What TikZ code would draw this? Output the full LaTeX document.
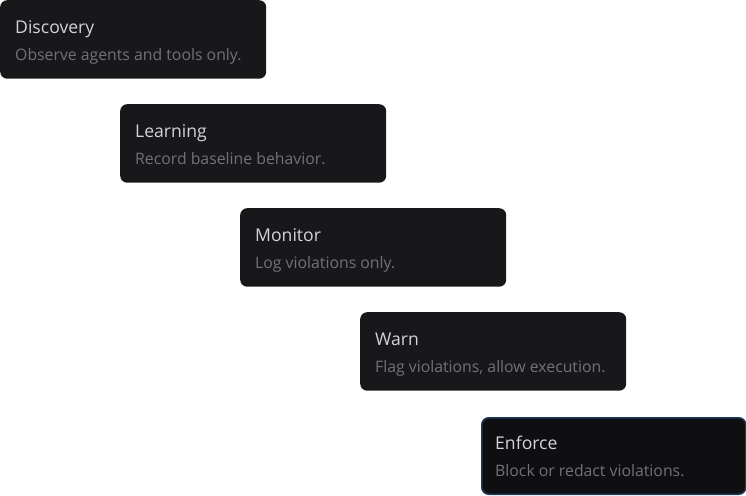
\documentclass[tikz,border=0pt]{standalone}
\usepackage{fontspec}
\usepackage{tikz}
\setmainfont{Open Sans}
\definecolor{boxfill}{HTML}{18181B}
\definecolor{lastfill}{HTML}{0F0F11}
\definecolor{lastedge}{HTML}{1E3A5F}
\definecolor{titlegray}{HTML}{D4D4D8}
\definecolor{notegray}{HTML}{71717A}

\begin{document}
\begin{tikzpicture}[x=1pt, y=-1pt,
	stagebox/.style={fill=boxfill, rounded corners=7pt, minimum width=266pt, minimum height=78.5pt, inner sep=0pt, anchor=north west},
	stagetitle/.style={anchor=base west, inner sep=0pt, text=titlegray, font=\fontsize{17.6}{19}\selectfont},
	stagenote/.style={anchor=base west, inner sep=0pt, text=notegray, font=\fontsize{15.8}{17}\selectfont}]
			\useasboundingbox (0,0) rectangle (746,495);
			% steps
			\node[stagebox] (discovery) at (0,0) {};
			\node[stagebox] (learning) at (120,104) {};
			\node[stagebox] (monitor) at (240,208) {};
			\node[stagebox] (warn) at (360,312) {};
			\node[stagebox, fill=lastfill, draw=lastedge, line width=1.5pt, minimum width=264pt, minimum height=76.5pt] (enforce) at (481,417) {};
			% texts
			\node[stagetitle] (discoveryT) at (15,33.5) {Discovery};
			\node[stagenote] (discoveryN) at (15,60) {Observe agents and tools only.};
			\node[stagetitle] (learningT) at (135,137.5) {Learning};
			\node[stagenote] (learningN) at (135,164) {Record baseline behavior.};
			\node[stagetitle] (monitorT) at (255,241.5) {Monitor};
			\node[stagenote] (monitorN) at (255,268) {Log violations only.};
			\node[stagetitle] (warnT) at (375,345.5) {Warn};
			\node[stagenote] (warnN) at (375,372) {Flag violations, allow execution.};
			\node[stagetitle] (enforceT) at (495,449.5) {Enforce};
			\node[stagenote] (enforceN) at (495,476) {Block or redact violations.};
			\end{tikzpicture}
\end{document}
